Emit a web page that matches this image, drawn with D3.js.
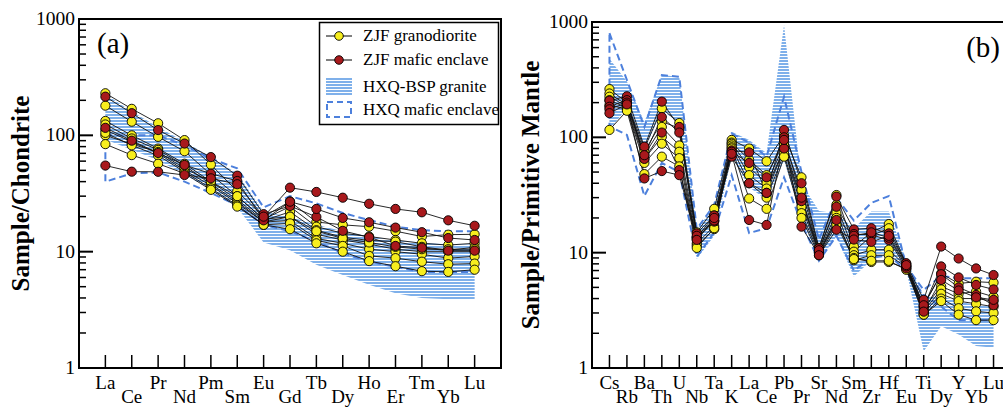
<!DOCTYPE html>
<html>
<head>
<meta charset="utf-8">
<script src="https://cdn.jsdelivr.net/npm/d3@7"></script>
<style>
body { margin: 0; background: #fff; }
text { font-family: "Liberation Serif", "Times New Roman", serif; fill: #000; }
</style>
</head>
<body>
<svg id="chart" width="1003" height="407"></svg>
<script>
// ---- data (a) chondrite-normalised REE ----
var reeElements = ["La","Ce","Pr","Nd","Pm","Sm","Eu","Gd","Tb","Dy","Ho","Er","Tm","Yb","Lu"];
var reeGranodiorite = [
    [230, 169, 127, 91, 56, 33, 20, 27, 18, 17, 16.4, 15, 13.5, 14, 14.1],
    [180, 131, 97, 73, 46, 30, 19, 24.4, 16.4, 14.4, 13.5, 12.6, 11.8, 11.4, 11.8],
    [133, 100, 77, 57, 40, 28, 18.5, 22, 15.3, 13.3, 12.5, 12.2, 11, 10.3, 10.9],
    [124, 94, 75, 55, 38, 27, 18, 20, 14.1, 12.6, 11.6, 10.5, 10, 10, 10],
    [111, 88, 70, 50, 37, 26, 18, 18.5, 13, 11.8, 10.5, 10, 9.5, 8.8, 9.1],
    [100, 84, 72, 52, 40, 30, 19, 20, 15, 13, 12, 11, 10.5, 10.5, 10.5],
    [105, 82, 67, 48.6, 35, 25, 17, 17.5, 12.5, 11.2, 9.2, 8.8, 8.2, 7.8, 7.9],
    [84, 67.6, 57, 47, 34, 24.4, 17, 15.6, 11.8, 10, 8.3, 7.5, 6.8, 6.7, 7.0]
];
var reeEnclave = [
    [215, 155, 111, 85, 65, 45, 21, 24.7, 19.9, 15.1, 13.3, 11.2, 10.8, 10.2, 10.2],
    [116, 90, 70.5, 55.6, 46.8, 40.5, 18.6, 26.9, 23.3, 19.5, 17.9, 16.1, 14.7, 13.1, 12.6],
    [55, 48.7, 48.6, 45.6, 42.7, 38, 20, 35.5, 32.6, 29.1, 25.8, 23.3, 21.8, 18.6, 16.7]
];
var reeBandUpper = [225, 160, 118, 88, 65, 47, 22, 20, 17, 15, 13.5, 12.5, 12, 11.5, 11.5];
var reeBandLower = [92, 75, 61, 46, 34, 24, 12, 10.3, 7.7, 6.3, 5.2, 4.4, 4.0, 3.9, 3.85];
var reeDashUpper = [100, 100, 100, 82, 63, 52, 24, 30, 26, 21.5, 18.7, 16.4, 15.3, 15, 15];
var reeDashLower = [40, 47, 48, 40, 32, 25, 17, 15, 12.2, 9.7, 8.2, 7.4, 6.7, 6.7, 6.7];

// ---- data (b) primitive-mantle-normalised spider ----
var spiderElements = ["Cs","Rb","Ba","Th","U","Nb","Ta","K","La","Ce","Pb","Pr","Sr","Nd","Sm","Zr","Hf","Eu","Ti","Dy","Y","Yb","Lu"];
var spiderGranodiorite = [
    [262, 200, 80, 178, 133, 15, 24, 95, 80, 62, 104, 45, 11, 31.6, 11.3, 15, 17.7, 8, 3.5, 6.6, 5.4, 5.6, 5.5],
    [240, 190, 75, 137, 120, 13.5, 21, 90, 64, 47, 90, 35, 10.5, 26, 10.2, 14, 16.3, 7.8, 3.3, 5.1, 4.4, 4.6, 4.15],
    [225, 185, 70, 123, 85, 13, 19, 88, 55, 40, 85, 29, 10.2, 22, 9.5, 10.6, 10.6, 7.6, 3.1, 4.8, 4.0, 4.0, 3.8],
    [210, 180, 65, 101, 75, 12, 17, 85, 47, 36, 80, 25, 10, 20, 8.6, 9.5, 9.5, 7.5, 3.0, 4.4, 3.8, 3.6, 3.4],
    [190, 175, 60, 88, 66, 11.5, 16, 82, 40, 30, 72, 22, 9.8, 18.5, 9, 8.3, 8.3, 7.3, 2.9, 4.0, 3.3, 3.1, 3.0],
    [116, 170, 48, 68, 56, 11, 16.3, 80, 29.5, 24, 68, 20, 9.5, 17.4, 8.8, 8.5, 8.5, 7.1, 2.9, 3.8, 2.9, 2.6, 2.6]
];
var spiderEnclave = [
    [208, 227, 83, 204, 123, 14.7, 21, 77, 74, 33, 116, 40, 10.9, 30.6, 15.9, 16.3, 14.7, 8.1, 3.9, 11.3, 8.9, 7.3, 6.4],
    [184, 210, 65, 110, 52, 13.5, 18.6, 68, 40, 33, 80, 28, 10, 19.2, 14.5, 14.3, 12.9, 7.3, 3.4, 7.6, 6.1, 5.25, 4.8],
    [175, 200, 70, 150, 110, 14, 19, 75, 60, 45, 100, 30, 10.5, 25, 14, 15, 13.5, 7.6, 3.5, 6.5, 5, 4.3, 3.5],
    [162, 193, 44, 51, 47, 12.9, 20, 72, 19.2, 17.4, 95, 16.8, 9.5, 15.8, 13, 12.4, 14, 7.8, 3.08, 5.8, 4.7, 4.1, 3.9]
];
var spiderBandUpper = [480, 305, 135, 347, 333, 16, 25, 112, 95, 73, 940, 40, 23, 22, 16.3, 22.7, 22.7, 8.6, 4.2, 4.2, 3.8, 3.5, 3.4];
var spiderBandLower = [116, 180, 77, 172, 133, 8.8, 14, 68, 37, 28.6, 63, 20, 8.5, 13.8, 6.2, 8.6, 9.9, 7.1, 1.4, 2.3, 1.95, 1.55, 1.5];
var spiderDashUpper = [800, 314, 123, 347, 335, 16, 26, 108, 90, 68, 225, 50, 13, 30, 19, 27, 31, 7.6, 4.75, 6.3, 6.0, 6.0, 6.0];
var spiderDashLower = [124, 105, 31, 60, 50, 9.2, 15, 47, 14.8, 16.3, 45, 18, 8.5, 14, 7, 9, 9.5, 7, 4.3, 3.4, 2.6, 2.6, 2.6];

var yTickValues = [1, 10, 100, 1000];

var legendItems = ["ZJF granodiorite", "ZJF mafic enclave", "HXQ-BSP granite", "HXQ mafic enclave"];

var svg = d3.select("#chart");

var stripe = svg.append("defs").append("pattern")
    .attr("id", "stripes")
    .attr("patternUnits", "userSpaceOnUse")
    .attr("width", 8).attr("height", 3);
stripe.append("rect").attr("width", 8).attr("height", 3).attr("fill", "#ffffff");
stripe.append("rect").attr("width", 8).attr("height", 2).attr("fill", "#7fb0ea");

var yellow = "#f7ee1e", red = "#a8191c", dashBlue = "#4d80dc";

function drawPanel(cfg) {
    var g = svg.append("g");
    var x = d3.scaleLinear().domain([0, cfg.elements.length + 1]).range([cfg.left, cfg.right]);
    var y = d3.scaleLog().domain([1, 1000]).range([cfg.bottom, cfg.top]);
    var idx = d3.range(cfg.elements.length);

    // band
    var area = d3.area()
        .x(function (i) { return x(i + 1); })
        .y0(function (i) { return y(cfg.bandLower[i]); })
        .y1(function (i) { return y(cfg.bandUpper[i]); });
    g.append("path").attr("d", area(idx)).attr("fill", "url(#stripes)");

    // dashed envelope
    var pts = idx.map(function (i) { return [x(i + 1), y(cfg.dashUpper[i])]; })
        .concat(idx.slice().reverse().map(function (i) { return [x(i + 1), y(cfg.dashLower[i])]; }));
    g.append("path").attr("d", d3.line()(pts) + "Z")
        .attr("fill", "none").attr("stroke", dashBlue)
        .attr("stroke-width", 2).attr("stroke-dasharray", "7,4");

    var line = d3.line().x(function (d, i) { return x(i + 1); }).y(function (d) { return y(d); });
    var all = cfg.granodiorite.concat(cfg.enclave);
    g.selectAll("path.sample").data(all).enter().append("path")
        .attr("class", "sample").attr("d", line)
        .attr("fill", "none").attr("stroke", "#111").attr("stroke-width", 0.9);

    function dots(series, color) {
        series.forEach(function (s) {
            g.selectAll(null).data(s).enter().append("circle")
                .attr("cx", function (d, i) { return x(i + 1); })
                .attr("cy", function (d) { return y(d); })
                .attr("r", 4.6)
                .attr("fill", color).attr("stroke", "#000").attr("stroke-width", 0.9);
        });
    }
    dots(cfg.granodiorite, yellow);
    dots(cfg.enclave, red);

    // frame
    g.append("path")
        .attr("d", "M" + cfg.left + "," + cfg.bottom + "V" + cfg.top + "H" + cfg.right + "V" + cfg.bottom + "Z")
        .attr("fill", "none").attr("stroke", "#000").attr("stroke-width", 2);

    // y ticks
    var minor = [];
    [1, 10, 100].forEach(function (d) { for (var k = 2; k < 10; k++) minor.push(d * k); });
    g.selectAll(null).data(minor).enter().append("line")
        .attr("x1", cfg.left).attr("x2", cfg.left + 7)
        .attr("y1", function (d) { return y(d); }).attr("y2", function (d) { return y(d); })
        .attr("stroke", "#000").attr("stroke-width", 1.5);
    g.selectAll(null).data(yTickValues).enter().append("line")
        .attr("x1", cfg.left).attr("x2", cfg.left + 14)
        .attr("y1", function (d) { return y(d); }).attr("y2", function (d) { return y(d); })
        .attr("stroke", "#000").attr("stroke-width", 2);
    g.selectAll(null).data(yTickValues).enter().append("text")
        .attr("x", cfg.left - 4).attr("y", function (d) { return y(d) + 6; })
        .attr("text-anchor", "end").attr("font-size", 19.5)
        .text(function (d) { return d; });

    // x ticks + labels
    g.selectAll(null).data(cfg.elements).enter().append("line")
        .attr("x1", function (d, i) { return x(i + 1); }).attr("x2", function (d, i) { return x(i + 1); })
        .attr("y1", cfg.bottom).attr("y2", cfg.bottom - 13)
        .attr("stroke", "#000").attr("stroke-width", 1.5);
    g.selectAll(null).data(cfg.elements).enter().append("text")
        .attr("x", function (d, i) { return x(i + 1); })
        .attr("y", function (d, i) { return i % 2 === 0 ? 389 : 403; })
        .attr("text-anchor", "middle").attr("font-size", 19)
        .text(function (d) { return d; });

    // y title
    g.append("text")
        .attr("transform", "translate(" + cfg.titleX + "," + ((cfg.top + cfg.bottom) / 2) + ") rotate(-90)")
        .attr("text-anchor", "middle").attr("font-size", 25).attr("font-weight", "bold")
        .text(cfg.title);

    g.append("text").attr("x", cfg.tagX).attr("y", cfg.tagY)
        .attr("text-anchor", cfg.tagAnchor).attr("font-size", 29)
        .text(cfg.tag);
}

drawPanel({
    left: 79, right: 501, top: 19, bottom: 368,
    elements: reeElements, granodiorite: reeGranodiorite, enclave: reeEnclave,
    bandUpper: reeBandUpper, bandLower: reeBandLower,
    dashUpper: reeDashUpper, dashLower: reeDashLower,
    title: "Sample/Chondrite", titleX: 29, tag: "(a)", tagX: 97, tagY: 53, tagAnchor: "start"
});
drawPanel({
    left: 592, right: 1011, top: 22, bottom: 368,
    elements: spiderElements, granodiorite: spiderGranodiorite, enclave: spiderEnclave,
    bandUpper: spiderBandUpper, bandLower: spiderBandLower,
    dashUpper: spiderDashUpper, dashLower: spiderDashLower,
    title: "Sample/Primitive Mantle", titleX: 539, tag: "(b)", tagX: 1000, tagY: 57, tagAnchor: "end"
});

// legend
var lg = svg.append("g");
lg.append("rect").attr("x", 319.5).attr("y", 22.5).attr("width", 179).attr("height", 102)
    .attr("fill", "#fff").attr("stroke", "#000").attr("stroke-width", 1.5);
var rowY = [36, 60, 87, 110];
[yellow, red].forEach(function (c, i) {
    lg.append("line").attr("x1", 326).attr("x2", 352).attr("y1", rowY[i]).attr("y2", rowY[i])
        .attr("stroke", "#000").attr("stroke-width", 1);
    lg.append("circle").attr("cx", 339).attr("cy", rowY[i]).attr("r", 4.3)
        .attr("fill", c).attr("stroke", "#000").attr("stroke-width", 0.9);
});
lg.append("rect").attr("x", 326).attr("y", 78).attr("width", 26).attr("height", 18).attr("fill", "url(#stripes)");
lg.append("rect").attr("x", 327).attr("y", 102).attr("width", 24).attr("height", 15)
    .attr("fill", "none").attr("stroke", dashBlue).attr("stroke-width", 2).attr("stroke-dasharray", "6,4");
lg.selectAll(null).data(legendItems).enter().append("text")
    .attr("x", 363).attr("y", function (d, i) { return rowY[i] + 5; })
    .attr("font-size", 17)
    .text(function (d) { return d; });
</script>
</body>
</html>
